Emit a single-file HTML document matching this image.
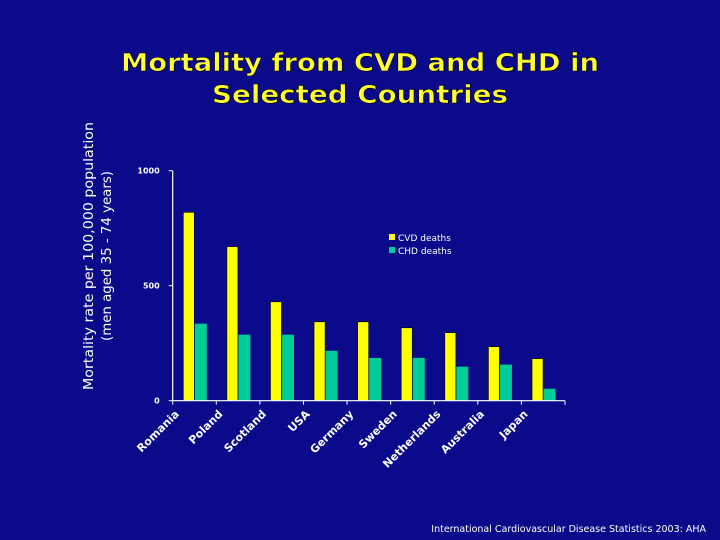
<!DOCTYPE html>
<html><head><meta charset="utf-8"><style>
html,body{margin:0;padding:0;background:#0a0a8a;}
svg{display:block}
</style></head><body>
<svg id="chart" width="720" height="540" xmlns="http://www.w3.org/2000/svg">
<rect width="720" height="540" fill="#0a0a8a"/>
<g font-family="DejaVu Sans, Verdana, sans-serif" font-weight="bold" fill="#ffff33" stroke="#000" stroke-width="0.6" font-size="25" text-anchor="middle">
<text x="360" y="71" textLength="478" lengthAdjust="spacingAndGlyphs">Mortality from CVD and CHD in</text>
<text x="360" y="103" textLength="296" lengthAdjust="spacingAndGlyphs">Selected Countries</text>
</g>
<g font-family="DejaVu Sans, Verdana, sans-serif" fill="#fff" font-size="13" text-anchor="middle">
<text transform="translate(93,256) rotate(-90)" textLength="268" lengthAdjust="spacingAndGlyphs">Mortality rate per 100,000 population</text>
<text transform="translate(111,256) rotate(-90)" textLength="170" lengthAdjust="spacingAndGlyphs">(men aged 35 - 74 years)</text>
</g>
<g id="plot"></g>
<g font-family="DejaVu Sans, Verdana, sans-serif" font-size="9" fill="#fff">
<rect x="389" y="234" width="6" height="6" fill="#ffff00"/>
<text x="398" y="241">CVD deaths</text>
<rect x="389" y="247" width="6" height="6" fill="#00cc99"/>
<text x="398" y="254">CHD deaths</text>
</g>
<text x="706" y="532" text-anchor="end" font-family="DejaVu Sans, Verdana, sans-serif" font-size="9.5" fill="#fff">International Cardiovascular Disease Statistics 2003: AHA</text>
</svg>
<script>
const categories = ["Romania","Poland","Scotland","USA","Germany","Sweden","Netherlands","Australia","Japan"];
const cvdValues = [819,670,430,343,343,317,296,235,183];
const chdValues = [335,287,287,217,186,186,148,157,52];
const yTicks = [0,500,1000];

const NS="http://www.w3.org/2000/svg";
const g=document.getElementById('plot');
const x0=172.7, x1=565, yZero=400.7, yTop=170.7, yMax=1000;
const catW=(x1-x0)/categories.length;
const yScale=v=>yZero-(v/yMax)*(yZero-yTop);
const xCat=i=>x0+i*catW;
function mk(tag,attrs){const e=document.createElementNS(NS,tag);for(const k in attrs)e.setAttribute(k,attrs[k]);g.appendChild(e);return e;}
categories.forEach((c,i)=>{
  const bx=xCat(i)+10.6;
  const r1=mk('rect',{x:bx,y:yScale(cvdValues[i]),width:11,height:yZero-yScale(cvdValues[i]),fill:'#ffff00',stroke:'#000','stroke-width':0.6});
  
  
  const r2=mk('rect',{x:bx+11.5,y:yScale(chdValues[i]),width:12,height:yZero-yScale(chdValues[i]),fill:'#00cc99'});
  
  
  const t=mk('text',{transform:`translate(${xCat(i)+7},${yZero+14}) rotate(-45)`,'text-anchor':'end','font-family':'DejaVu Sans, Verdana, sans-serif','font-size':11,'font-weight':'bold',fill:'#fff'});
  t.textContent=c;
  
  
});
for(let i=0;i<=categories.length;i++){
  const tk=mk('line',{x1:xCat(i),x2:xCat(i),y1:yZero,y2:yZero+4,stroke:'#fff','stroke-width':1});
  
  
}
yTicks.forEach(v=>{
  const l=mk('line',{x1:x0-4,x2:x0,y1:yScale(v),y2:yScale(v),stroke:'#fff','stroke-width':1});
  
  
  const t=mk('text',{x:x0-13,y:yScale(v)+3,'text-anchor':'end','font-family':'DejaVu Sans, Verdana, sans-serif','font-size':8,'font-weight':'bold',fill:'#fff'});
  t.textContent=v;
  
  
});
const ax=mk('line',{x1:x0,x2:x0,y1:yTop,y2:yZero,stroke:'#fff','stroke-width':1.2});


const bx=mk('line',{x1:x0,x2:x1,y1:yZero,y2:yZero,stroke:'#fff','stroke-width':1.2});


</script>
</body></html>
